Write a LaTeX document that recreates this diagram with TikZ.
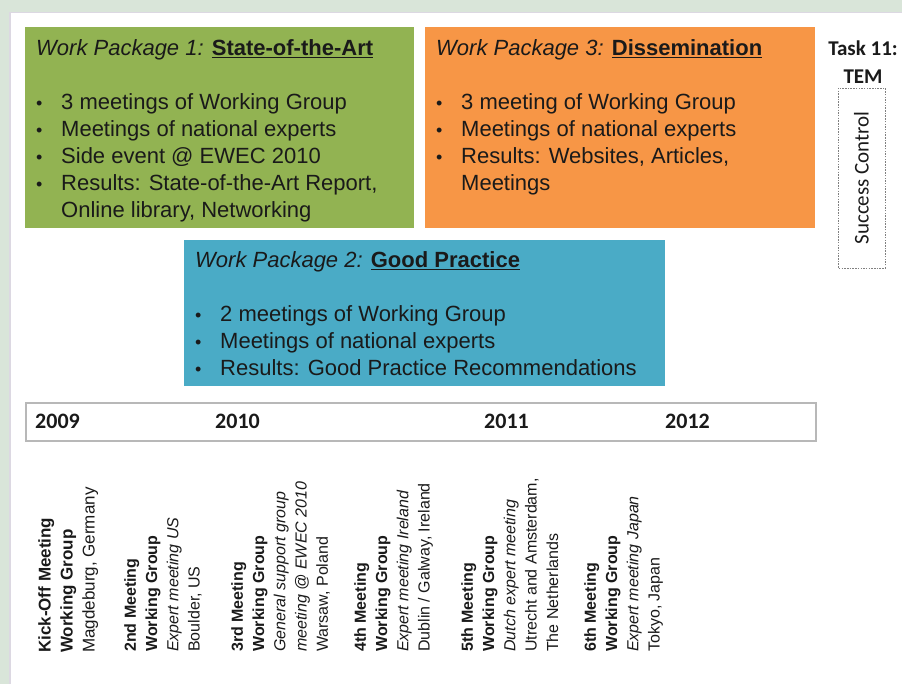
\documentclass[tikz,border=0pt]{standalone}
\usepackage{fontspec}
\setmainfont{Liberation Sans}
\newfontfamily\carlito{Carlito}
\definecolor{outerbg}{HTML}{D9E5D9}
\definecolor{panelline}{HTML}{DCD8E2}
\definecolor{wpgreen}{HTML}{92B352}
\definecolor{wporange}{HTML}{F79646}
\definecolor{wpblue}{HTML}{4AABC6}
\definecolor{txt}{HTML}{1A1A1A}
\definecolor{tlline}{HTML}{B8B8B8}
\newcommand\bitem[1]{\makebox[25pt][l]{\fontsize{18}{18}\selectfont •}#1}
\newcommand\wphead[2]{\textit{Work Package #1:} \textbf{\underline{#2}}}
\tikzset{
  wpbox/.style={draw=none, minimum width=#1, inner sep=0pt, anchor=north west},
  wptext/.style={anchor=north west, inner sep=0pt, align=left, text=txt,
    font=\fontsize{22}{27}\selectfont},
  yeartxt/.style={anchor=west, inner sep=0pt, text=txt,
    font=\carlito\bfseries\fontsize{22}{26}\selectfont},
  meet/.style={anchor=north west, rotate=90, inner sep=0pt, align=left, text=txt,
    font=\fontsize{16}{21.3}\selectfont},
}
\begin{document}
\begin{tikzpicture}[x=1pt,y=-1pt]
\useasboundingbox (0,0) rectangle (902,684);
\fill[outerbg] (0,0) rectangle (902,684);
\node[draw=panelline, line width=1.5pt, fill=white, anchor=north west,
  minimum width=900pt, minimum height=680pt, inner sep=0pt] (panel) at (9,12) {};

% work package boxes
\node[wpbox=389pt, fill=wpgreen, minimum height=201pt] (wp1) at (25,27) {};
\node[wptext] (wp1t) at (36,39) {\wphead{1}{State-of-the-Art}\\[27pt]
  \bitem{3 meetings of Working Group}\\
  \bitem{Meetings of national experts}\\
  \bitem{Side event @ EWEC 2010}\\
  \bitem{Results: State-of-the-Art Report,}\\
  \hspace*{25pt}Online library, Networking};

\node[wpbox=390pt, fill=wporange, minimum height=201pt] (wp3) at (425,27) {};
\node[wptext] (wp3t) at (436,39) {\wphead{3}{Dissemination}\\[27pt]
  \bitem{3 meeting of Working Group}\\
  \bitem{Meetings of national experts}\\
  \bitem{Results: Websites, Articles,}\\
  \hspace*{25pt}Meetings};

\node[wpbox=481pt, fill=wpblue, minimum height=146pt] (wp2) at (184,240) {};
\node[wptext] (wp2t) at (195,251) {\wphead{2}{Good Practice}\\[27pt]
  \bitem{2 meetings of Working Group}\\
  \bitem{Meetings of national experts}\\
  \bitem{Results: Good Practice Recommendations}};

% task 11
\node[align=center, inner sep=0pt, text=txt,
  font=\carlito\bfseries\fontsize{21}{28}\selectfont] (task) at (863,62) {Task 11:\\TEM};
\node[draw=gray, dash pattern=on 1.5pt off 1.2pt, line width=0.9pt, rotate=90,
  minimum width=180pt, minimum height=47pt, inner sep=0pt, text=txt,
  font=\carlito\fontsize{21}{24}\selectfont] (sc) at (861.5,178) {Success Control};

% timeline
\node[draw=tlline, line width=2pt, fill=white, anchor=north west,
  minimum width=790pt, minimum height=38pt, inner sep=0pt] (tl) at (25,402) {};
\node[yeartxt] (y2009) at (35,421) {2009};
\node[yeartxt] (y2010) at (215,421) {2010};
\node[yeartxt] (y2011) at (484,421) {2011};
\node[yeartxt] (y2012) at (665,421) {2012};

% meetings
\node[meet, font=\fontsize{17}{22}\selectfont] (m1) at (38,653)
  {\textbf{Kick-Off Meeting}\\\textbf{Working Group}\\Magdeburg, Germany};
\node[meet] (m2) at (124,652)
  {\textbf{2nd Meeting}\\\textbf{Working Group}\\\textit{Expert meeting US}\\Boulder, US};
\node[meet] (m3) at (231,652)
  {\textbf{3rd Meeting}\\\textbf{Working Group}\\\textit{General support group}\\\textit{meeting @ EWEC 2010}\\Warsaw, Poland};
\node[meet] (m4) at (354,652)
  {\textbf{4th Meeting}\\\textbf{Working Group}\\\textit{Expert meeting Ireland}\\Dublin / Galway, Ireland};
\node[meet] (m5) at (461,652)
  {\textbf{5th Meeting}\\\textbf{Working Group}\\\textit{Dutch expert meeting}\\Utrecht and Amsterdam,\\The Netherlands};
\node[meet] (m6) at (584,652)
  {\textbf{6th Meeting}\\\textbf{Working Group}\\\textit{Expert meeting Japan}\\Tokyo, Japan};
\end{tikzpicture}
\end{document}
